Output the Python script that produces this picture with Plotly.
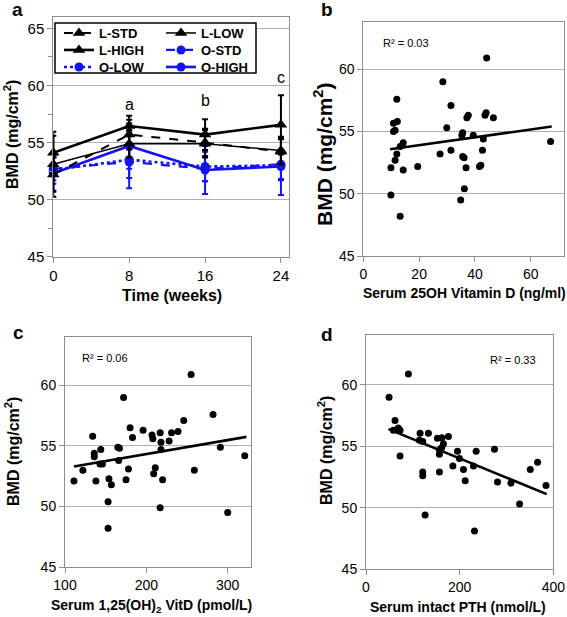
import plotly.graph_objects as go

W, H = 567, 617
FONT = "Liberation Sans, Arial, sans-serif"

# ---------------- Panel a data ----------------
weeks = [0, 8, 16, 24]
l_std = [52.2, 55.7, 55.0, 54.2]
l_low = [53.1, 54.9, 54.9, 54.3]
l_high = [54.1, 56.45, 55.7, 56.55]
o_std = [52.7, 53.3, 52.7, 53.1]
o_low = [52.6, 53.5, 52.9, 53.0]
o_high = [52.3, 54.7, 52.6, 52.9]
l_std_err = [1.5, 1.3, 1.2, 1.1]
l_low_err = [2.85, 1.2, 1.2, 1.2]
l_high_err = [1.5, 0.9, 1.35, 2.6]
o_std_err = [1.0, 1.4, 1.1, 1.3]
o_low_err = [1.2, 2.5, 1.3, 1.3]
o_high_err = [1.5, 2.0, 2.1, 2.5]
sig_labels = ["a", "b", "c"]
sig_x = [8, 16, 24]
sig_y = [58.3, 58.7, 60.7]

# ---------------- Panel b data ----------------
vitd25 = [9.9, 9.9, 10.8, 12.2, 10.8, 11.4, 12.0, 12.0, 11.4, 14.3, 13.2, 14.3, 13.2,
          19.5, 27.5, 28.5, 29.9, 31.4, 31.4, 35.3, 35.6, 35.6, 36.1, 36.8, 36.2, 34.9,
          37.1, 37.6, 39.4, 43.0, 42.7, 41.6, 42.1, 43.6, 44.0, 46.6, 44.2, 67.1]
bmd_b = [52.1, 49.9, 55.66, 55.8, 55.0, 55.1, 57.6, 53.2, 52.7, 54.1, 53.8, 51.9, 48.2,
         52.2, 53.2, 59.0, 55.3, 57.1, 53.5, 54.7, 54.9, 53.0, 52.9, 52.1, 50.4, 49.5,
         56.1, 56.3, 54.7, 54.4, 53.5, 52.2, 52.3, 56.3, 56.5, 56.1, 60.9, 54.2]
trend_b_x = [9.6, 67.5]
trend_b_y = [53.57, 55.4]
r2_b = "R² = 0.03"

# ---------------- Panel c data ----------------
vitd125 = [111, 122, 134, 136, 136, 138, 143, 144, 146, 153, 153, 154, 157, 165, 167,
           166, 172, 175, 178, 180, 183, 196, 207, 208, 209, 211, 217, 218, 218, 217,
           220, 228, 231, 239, 246, 255, 259, 282, 291, 300, 321]
bmd_c = [52.1, 53.0, 55.8, 54.4, 54.1, 52.1, 53.5, 54.7, 53.5, 50.4, 48.2, 52.3, 51.8,
         54.9, 54.8, 53.8, 59.0, 52.2, 53.1, 56.5, 55.7, 56.3, 55.9, 55.6, 52.7, 53.2,
         56.1, 55.3, 54.7, 49.9, 52.2, 55.4, 56.1, 56.2, 57.1, 60.9, 53.0, 57.6, 54.9,
         49.5, 54.2]
trend_c_x = [111, 323]
trend_c_y = [53.3, 55.75]
r2_c = "R² = 0.06"

# ---------------- Panel d data ----------------
pth = [90.6, 49.2, 62, 69, 72.7, 58.4, 72.7, 115.5, 133.3, 114, 121.2, 152.5, 161.9,
       176, 165.4, 161.9, 156.8, 156.8, 195.3, 235.3, 274.4, 199.6, 185.5, 208.1, 229.5,
       211.8, 121.2, 121.2, 156.8, 280.9, 309.5, 328, 350.8, 366.4, 384.4, 126.2, 231.7]
bmd_d = [60.9, 59.0, 57.1, 56.5, 56.3, 56.3, 54.2, 56.06, 56.06, 55.5, 55.4, 55.65, 55.7,
         55.8, 55.2, 54.9, 54.7, 54.35, 54.6, 54.6, 54.75, 54.0, 53.4, 53.1, 53.4, 52.2,
         52.9, 52.6, 52.9, 52.1, 52.0, 50.3, 53.1, 53.7, 51.8, 49.4, 48.1]
trend_d_x = [48, 386]
trend_d_y = [56.4, 51.1]
r2_d = "R² = 0.33"

BLUE = "#1414f0"
GRID = "#b0b0b0"
FRAME = "#8e8e8e"


def px(x):
    return x / W


def py(y):
    return 1 - y / H


fig = go.Figure()

series = [
    ("L-STD", l_std, l_std_err, "black", "dash", 2, "triangle-up", "legend"),
    ("L-LOW", l_low, l_low_err, "black", "solid", 1.5, "triangle-up", "legend"),
    ("L-HIGH", l_high, l_high_err, "black", "solid", 2.6, "triangle-up", "legend2"),
    ("O-STD", o_std, o_std_err, BLUE, "dash", 2.2, "circle", "legend2"),
    ("O-LOW", o_low, o_low_err, BLUE, "dot", 2.6, "circle", "legend3"),
    ("O-HIGH", o_high, o_high_err, BLUE, "solid", 2.6, "circle", "legend3"),
]
names = [s[0] for s in series]
# draw blue first so black on top
draw_order = [3, 4, 5, 0, 1, 2]
for i in draw_order:
    name, ys, err, col, dash, lw, sym, leg = series[i]
    fig.add_trace(go.Scatter(
        x=weeks, y=ys, name=name, mode="lines+markers",
        line=dict(color=col, dash=dash, width=lw),
        marker=dict(symbol=sym, size=11 if sym == "triangle-up" else 9, color=col),
        error_y=dict(type="data", array=err, color=col, thickness=2, width=3),
        xaxis="x", yaxis="y", legend=leg, cliponaxis=False,
        legendrank=names.index(name) + 1,
    ))

for lab, xx, yy in zip(sig_labels, sig_x, sig_y):
    fig.add_annotation(x=xx, y=yy, xref="x", yref="y", text=lab, showarrow=False,
                       font=dict(size=16, color="black", family=FONT))

# scatter panels
for xs, ys, tx, ty, ax in [(vitd25, bmd_b, trend_b_x, trend_b_y, "2"),
                           (vitd125, bmd_c, trend_c_x, trend_c_y, "3"),
                           (pth, bmd_d, trend_d_x, trend_d_y, "4")]:
    fig.add_trace(go.Scatter(x=xs, y=ys, mode="markers", showlegend=False,
                             marker=dict(color="black", size=7),
                             xaxis="x" + ax, yaxis="y" + ax, cliponaxis=False))
    fig.add_trace(go.Scatter(x=tx, y=ty, mode="lines", showlegend=False,
                             line=dict(color="black", width=2.6),
                             xaxis="x" + ax, yaxis="y" + ax))

tickfont_a = dict(size=15, color="black", family=FONT)
tickfont = dict(size=14, color="black", family=FONT)

common_x = dict(showline=True, linecolor=FRAME, linewidth=1, mirror=True,
                showgrid=False, zeroline=False, ticks="outside", ticklen=5,
                tickcolor=FRAME, automargin=False)
common_y = dict(showline=True, linecolor=FRAME, linewidth=1, mirror=True,
                showgrid=True, gridcolor=GRID, gridwidth=1, zeroline=False,
                ticks="outside", ticklen=5, tickcolor=FRAME, automargin=False)

fig.update_layout(
    template="none",
    width=W, height=H, margin=dict(l=0, r=0, t=0, b=0, autoexpand=False),
    autosize=False,
    paper_bgcolor="white", plot_bgcolor="white",
    font=dict(family=FONT, color="black"),
    xaxis=dict(domain=[px(53.3), px(289)], range=[0, 24.85], tickvals=weeks,
               tickfont=tickfont_a, anchor="y", **common_x),
    yaxis=dict(domain=[py(256.7), py(17)], range=[45, 66], dtick=5, tick0=45,
               tickfont=tickfont_a, anchor="x",
               minor=dict(dtick=2.5, ticks="outside", ticklen=4, tickcolor=FRAME,
                          showgrid=False), **common_y),
    xaxis2=dict(domain=[px(363.3), px(564)], range=[0, 71.9], dtick=20,
                tickfont=tickfont, anchor="y2", **common_x),
    yaxis2=dict(domain=[py(256), py(22)], range=[45, 63.8], dtick=5, tick0=45,
                tickfont=tickfont, anchor="x2", **common_y),
    xaxis3=dict(domain=[px(65), px(250.7)], range=[100, 328.3], dtick=100,
                tickfont=tickfont, anchor="y3", **common_x),
    yaxis3=dict(domain=[py(567), py(337)], range=[45, 64], dtick=5, tick0=45,
                tickfont=tickfont, anchor="x3", **common_y),
    xaxis4=dict(domain=[px(366), px(553.3)], range=[0, 400], dtick=200,
                tickfont=tickfont, anchor="y4", **common_x),
    yaxis4=dict(domain=[py(569), py(335)], range=[45, 64.07], dtick=5, tick0=45,
                tickfont=tickfont, anchor="x4", **common_y),
    showlegend=True,
)

legfont = dict(size=13, color="black", family=FONT, weight="bold")
for key, yrow in [("legend", 33), ("legend2", 50), ("legend3", 67)]:
    fig.update_layout({key: dict(orientation="h", x=px(59), xanchor="left",
                                 y=py(yrow), yanchor="middle", entrywidth=57,
                                 bgcolor="rgba(0,0,0,0)", borderwidth=0,
                                 font=legfont, tracegroupgap=0,
                                 traceorder="normal")})

# legend frame
fig.add_shape(type="rect", xref="paper", yref="paper",
              x0=px(55), x1=px(256), y0=py(73), y1=py(23),
              line=dict(color="black", width=1.5), fillcolor="white", layer="above")


def ann(x, y, text, size, angle=0, weight="bold", xanchor="center"):
    fig.add_annotation(x=px(x), y=py(y), xref="paper", yref="paper", text=text,
                       showarrow=False, textangle=angle, xanchor=xanchor,
                       yanchor="middle",
                       font=dict(family=FONT, color="black", size=size, weight=weight))


# panel letters
ann(17, 10, "a", 19)
ann(327, 10, "b", 19)
ann(18, 332, "c", 19)
ann(327, 334, "d", 19)

# axis titles
ann(11, 135, "BMD (mg/cm<sup>2</sup>)", 16, angle=-90)
ann(172, 295, "Time (weeks)", 16)
ann(323, 154, "BMD (mg/cm<sup>2</sup>)", 21, angle=-90)
ann(464, 293, "Serum 25OH Vitamin D (ng/ml)", 14)
ann(12, 452, "BMD (mg/cm<sup>2</sup>)", 16, angle=-90)
ann(151, 606, "Serum 1,25(OH)<sub>2</sub> VitD (pmol/L)", 14)
ann(325, 451, "BMD (mg/cm<sup>2</sup>)", 16, angle=-90)
ann(458, 607, "Serum intact PTH (nmol/L)", 14)

# R squared
ann(381, 43, r2_b, 11, weight="normal", xanchor="left")
ann(80, 358, r2_c, 11, weight="normal", xanchor="left")
ann(488, 360, r2_d, 11, weight="normal", xanchor="left")

fig.write_html("out.html",
               config={"displayModeBar": False},
               post_script="document.body.style.margin='0';"
                           "document.body.style.overflow='hidden';")
